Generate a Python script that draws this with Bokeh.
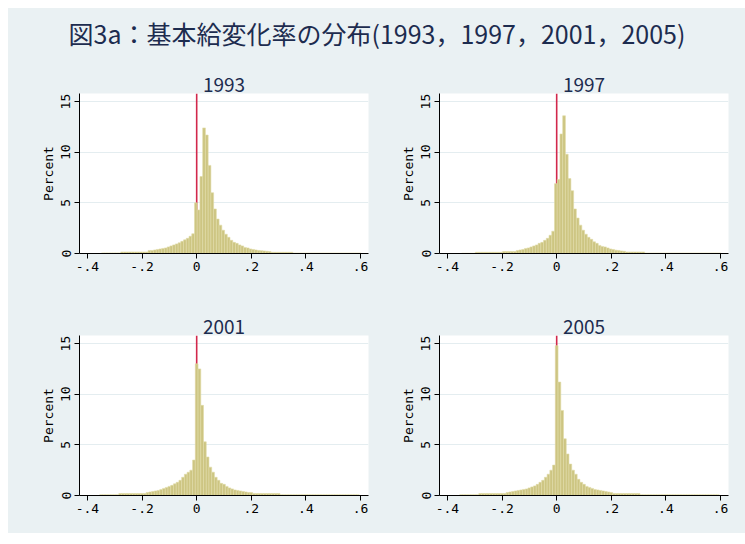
import numpy as np
from bokeh.plotting import figure
from bokeh.layouts import column, gridplot
from bokeh.models import Range1d, FixedTicker, ColumnDataSource
from bokeh.core.properties import value
from bokeh.embed import file_html
from bokeh.resources import INLINE

# ---------------- data ----------------
main_title = "図3a：基本給変化率の分布(1993，1997，2001，2005)"
years = ["1993", "1997", "2001", "2005"]
bin_width = 0.01
bin_start = {"1993": -0.348, "1997": -0.348, "2001": -0.355, "2005": -0.355}

pct_1993 = [0.06] * 7 + [0.15] * 10 + [
    0.3, 0.3, 0.35, 0.4, 0.45, 0.5, 0.55, 0.65, 0.75, 0.85, 0.95, 1.05, 1.2, 1.35, 1.5, 1.7, 1.95,
    5.0, 4.3, 7.6, 12.4, 11.7, 8.7, 6.0, 4.4, 3.4, 2.8, 2.3, 1.9, 1.6, 1.3, 1.1, 1.0,
    0.85, 0.75, 0.6, 0.55, 0.45, 0.4, 0.35, 0.3, 0.28, 0.25, 0.22, 0.2] + [0.12] * 8 + [0.05] * 25

pct_1997 = [0.03] * 5 + [0.12] * 10 + [0.2] * 5 + [
    0.3, 0.35, 0.4, 0.5, 0.55, 0.65, 0.75, 0.85, 1.0, 1.1, 1.3, 1.5, 1.8, 2.2,
    6.9, 7.3, 11.8, 13.6, 9.8, 7.4, 6.2, 4.4, 3.5, 2.8, 2.3, 1.9, 1.6, 1.4, 1.15, 1.0,
    0.8, 0.7, 0.65, 0.55, 0.45, 0.4, 0.33, 0.3, 0.25, 0.22] + [0.15] * 7 + [0.05] * 28

pct_2001 = [0.08] * 7 + [0.2] * 10 + [
    0.3, 0.35, 0.4, 0.45, 0.5, 0.6, 0.7, 0.8, 0.9, 1.0, 1.15, 1.3, 1.5, 1.8, 2.1, 2.3, 2.5, 3.5,
    13.0, 12.5, 8.9, 5.3, 3.8, 2.8, 2.3, 1.8, 1.5, 1.2, 1.1, 0.9, 0.75, 0.65, 0.55, 0.5,
    0.45, 0.4, 0.35, 0.3, 0.3] + [0.2] * 10 + [0.08] * 29

pct_2005 = [0.08] * 7 + [0.2] * 10 + [
    0.3, 0.35, 0.4, 0.45, 0.5, 0.55, 0.6, 0.65, 0.75, 0.85, 0.95, 1.1, 1.3, 1.5, 1.8, 2.1, 2.5, 3.0,
    14.8, 11.2, 8.4, 5.6, 4.1, 3.1, 2.5, 2.1, 1.6, 1.3, 1.1, 0.9, 0.8, 0.7, 0.6, 0.55,
    0.5, 0.45, 0.4, 0.35, 0.3] + [0.2] * 10 + [0.08] * 29

percent = {"1993": pct_1993, "1997": pct_1997, "2001": pct_2001, "2005": pct_2005}
ref_x = [0.0]

x_ticks = [-0.4, -0.2, 0.0, 0.2, 0.4, 0.6]
x_tick_labels = ["-.4", "-.2", "0", ".2", ".4", ".6"]
y_ticks = [0, 5, 10, 15]
y_label = "Percent"

# ---------------- style ----------------
BG = "#eaf1f3"
NAVY = "#1d2c4f"
BAR_FILL = "#cdc582"
BAR_LINE = "#e0dba8"
RED = "#d2284c"
FONT = "Noto Sans CJK JP"
MONO = "DejaVu Sans Mono"

X_RANGE = (-0.429, 0.629)
Y_TOP = 15.8


def panel(year, bl, br, bt, bb):
    p = figure(frame_width=289, frame_height=160,
               x_range=Range1d(*X_RANGE), y_range=Range1d(0, Y_TOP),
               output_backend="svg", toolbar_location=None,
               min_border_left=bl, min_border_right=br,
               min_border_top=bt, min_border_bottom=bb)
    p.background_fill_color = "white"
    p.border_fill_color = BG
    p.outline_line_color = None
    p.title.text = year
    p.title.align = "center"
    p.title.text_font = FONT
    p.title.text_font_size = "19px"
    p.title.text_font_style = "normal"
    p.title.text_color = NAVY
    p.title.standoff = 4
    p.title.offset = 0

    p.xgrid.visible = False
    p.ygrid.ticker = FixedTicker(ticks=[t for t in y_ticks if t > 0])
    p.ygrid.grid_line_color = "#e4edf0"
    p.ygrid.grid_line_width = 1.2

    h = np.array(percent[year])
    left = bin_start[year] + bin_width * np.arange(len(h))
    src = ColumnDataSource(dict(left=left, right=left + bin_width, top=h, bottom=np.zeros(len(h))))

    p.segment(x0=ref_x, y0=[0] * len(ref_x), x1=ref_x, y1=[Y_TOP] * len(ref_x),
              line_color=RED, line_width=1.6)
    p.quad(left="left", right="right", top="top", bottom="bottom", source=src,
           fill_color=BAR_FILL, line_color=BAR_LINE, line_width=0.6)

    for ax in (p.xaxis[0], p.yaxis[0]):
        ax.axis_line_color = "black"
        ax.major_tick_line_color = "black"
        ax.major_tick_in = 0
        ax.major_tick_out = 5
        ax.minor_tick_line_color = None
        ax.major_label_text_font = MONO
        ax.major_label_text_font_size = "13px"
        ax.major_label_text_color = "black"
    p.xaxis.ticker = FixedTicker(ticks=x_ticks)
    p.xaxis.major_label_overrides = dict(zip(x_ticks, x_tick_labels))
    p.xaxis.major_label_standoff = 3
    p.yaxis.ticker = FixedTicker(ticks=y_ticks)
    p.yaxis.major_label_orientation = "vertical"
    p.yaxis.major_label_standoff = 4
    p.yaxis.axis_label = y_label
    p.yaxis.axis_label_text_font = MONO
    p.yaxis.axis_label_text_font_size = "13px"
    p.yaxis.axis_label_text_font_style = "normal"
    p.yaxis.axis_label_text_color = "black"
    p.yaxis.axis_label_standoff = 3
    return p


p1 = panel("1993", 71, 8, 23, 59)
p2 = panel("1997", 63, 17, 23, 59)
p3 = panel("2001", 71, 8, 23, 38)
p4 = panel("2005", 63, 17, 23, 38)

tf = figure(width=737, height=62, x_range=Range1d(0, 1), y_range=Range1d(0, 1),
            output_backend="svg", toolbar_location=None,
            min_border=0)
tf.axis.visible = False
tf.grid.visible = False
tf.outline_line_color = None
tf.background_fill_color = BG
tf.border_fill_color = BG
tf.text(x=[0.5], y=[0.6], text=[main_title], text_align="center", text_baseline="middle",
        text_font=value(FONT), text_font_size="25px", text_color=NAVY)

grid = gridplot([[p1, p2], [p3, p4]], toolbar_location=None)
grid.styles = {"background-color": BG}
layout = column(tf, grid, spacing=0, margin=(8, 0, 0, 8))
layout.styles = {"background-color": BG}

open("out.html", "w").write(file_html(layout, INLINE))
